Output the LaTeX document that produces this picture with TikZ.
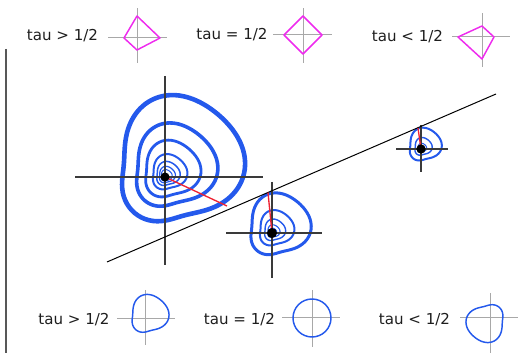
\documentclass[tikz,border=0pt]{standalone}
\usepackage{fontspec}
\setmainfont{DejaVu Sans}
\usetikzlibrary{positioning}
\definecolor{TauBlue}{HTML}{2459EC}
\definecolor{TauPink}{HTML}{EE2BEE}
\definecolor{TauRed}{HTML}{EE2233}
\definecolor{TauAxis}{HTML}{3A3A3A}
\definecolor{TauGrid}{HTML}{A8A8A8}
\definecolor{TauInk}{HTML}{1E1E1E}
\pgfmathdeclarefunction{tauball}{1}{%
  \pgfmathparse{59.9+21.8*cos(#1-50)+6.25*cos(2*(#1-50))-4.33*cos(3*(#1-50))-1.6*cos(4*(#1-50))}%
}
\tikzset{
  taulabel/.style={text=TauInk,font=\fontsize{11.3}{13}\selectfont,inner sep=0pt},
  tauaxis/.style={draw=TauAxis,line width=1pt},
  taugrid/.style={draw=TauGrid,line width=0.75pt},
  tauedge/.style={draw=TauPink,line width=1.1pt,line join=round},
  taucurve/.style={draw=TauBlue,line width=1.1pt},
  tauloop/.style={draw=TauBlue,line cap=round,line join=round},
  taustep/.style={draw=TauRed,line width=1pt},
  taudot/.style={circle,fill=black,inner sep=0pt,minimum size=#1},
  taudiag/.style={draw=black,line width=0.75pt}
}
\newcommand\tauloops[2]{%
  \begin{scope}[shift={(#1)}]
    \foreach \s/\w in {#2}
      \draw[tauloop,line width=\w*0.75pt] plot[domain=0:355,samples=72,smooth cycle,variable=\x] (\x:{\s*tauball(\x)});
  \end{scope}
}

\begin{document}
\begin{tikzpicture}[x=0.75pt,y=0.75pt]
  \useasboundingbox (0,0) rectangle (519,353);
  \node[taulabel] (topgt) at (62.5,317) {tau > 1/2};
  \node[taulabel] (topeq) at (232,318) {tau = 1/2};
  \node[taulabel] (toplt) at (407.5,316) {tau < 1/2};
  \draw[taugrid] (108,315) -- (167,315) (137,290) -- (137,345);
  \draw[tauedge] (137,337) -- (160,315) -- (137,303) -- (124,315) -- cycle;
  \draw[taugrid] (273,318) -- (332,318) (303,290) -- (303,345);
  \draw[tauedge] (303,337) -- (322,318) -- (303,299) -- (284,318) -- cycle;
  \draw[taugrid] (452,316) -- (510,316) (482,286) -- (482,340);
  \draw[tauedge] (482,327) -- (494,316) -- (482,294) -- (458,316) -- cycle;

  \draw[draw=TauAxis!85,line width=1.5pt] (6,304) -- (6,0);

  \coordinate (c1) at (165,176);
  \coordinate (c2) at (272,120);
  \coordinate (c3) at (421,204);
  \coordinate (d0) at (107,91);
  \coordinate (d1) at (496,259);
  \coordinate (p1) at (227,147);
  \coordinate (p2) at (268,160.5);
  \coordinate (p3) at (418,225);

  \tauloops{c1}{1/4.6,0.66/3.6,0.45/2.8,0.28/2,0.19/1.5,0.13/1.2,0.09/1}
  \tauloops{c2}{0.49/3,0.28/2,0.17/1.4,0.1/1.1,0.06/0.9}
  \tauloops{c3}{0.26/2,0.14/1.4,0.07/1}

  \draw[tauaxis] (75,176) -- (263,176) (165,277) -- (165,88);
  \draw[tauaxis] (226,120) -- (322,120) (272,171) -- (272,75);
  \draw[tauaxis] (396,204) -- (448,204) (421,228) -- (421,181);
  \draw[taudiag] (d0) -- (d1);

  \draw[taustep] (c1) -- (p1);
  \draw[taustep] (c2) -- (p2);
  \draw[taustep] (c3) -- (p3);
  \node[taudot=6.8pt] (dot1) at (c1) {};
  \node[taudot=7.5pt] (dot2) at (c2) {};
  \node[taudot=7pt] (dot3) at (c3) {};

  \node[taulabel] (botgt) at (74,33) {tau > 1/2};
  \node[taulabel] (boteq) at (239.5,33) {tau = 1/2};
  \node[taulabel] (botlt) at (414.5,33) {tau < 1/2};
  \draw[taugrid] (117,34) -- (175,34) (145,63) -- (145,8);
  \begin{scope}[shift={(145,34)}]
    \draw[taucurve] plot[domain=0:355,samples=72,smooth cycle,variable=\x] (\x:{0.3*tauball(\x)});
  \end{scope}
  \draw[taugrid] (282,35) -- (340,35) (312,63) -- (312,6);
  \draw[taucurve] (312,35) circle[radius=19];
  \draw[taugrid] (460,35) -- (518,35) (490,60) -- (490,0);
  \begin{scope}[shift={(490,35)}]
    \draw[taucurve] plot[domain=0:355,samples=72,smooth cycle,variable=\x] (\x:{0.3*tauball(\x+180)});
  \end{scope}
\end{tikzpicture}
\end{document}
